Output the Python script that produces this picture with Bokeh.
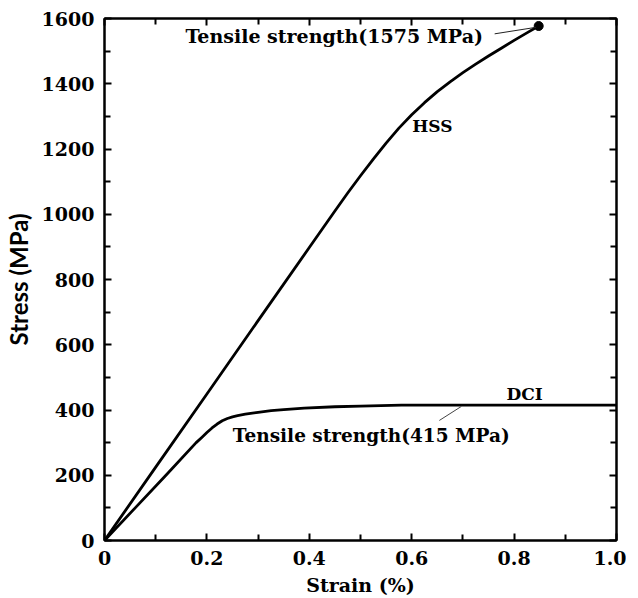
from bokeh.plotting import figure
from bokeh.models import Range1d, LinearAxis, FixedTicker, Label
from bokeh.embed import file_html
from bokeh.resources import INLINE

# ---- data ----
hss_strain = [0.0, 0.1, 0.2, 0.3, 0.4, 0.45, 0.475, 0.5, 0.525, 0.55, 0.575, 0.6, 0.625,
              0.65, 0.675, 0.7, 0.725, 0.75, 0.775, 0.8, 0.825, 0.848]
hss_stress = [0, 225, 449, 674, 898, 1010, 1065, 1118, 1169, 1218, 1264, 1305, 1342,
              1376, 1406, 1434, 1460, 1485, 1509, 1533, 1556, 1577]

dci_strain = [0.0, 0.06, 0.12, 0.179, 0.19, 0.20, 0.21, 0.22, 0.23, 0.24, 0.25, 0.26,
              0.275, 0.30, 0.3255, 0.35, 0.39, 0.45, 0.50, 0.58, 0.70, 0.85, 1.00]
dci_stress = [0, 100, 200, 300, 316, 331, 345, 357, 367, 374, 379, 383,
              387, 393, 398, 401, 406, 410, 412, 415, 415, 415, 415]

hss_uts_strain = [0.848]
hss_uts_stress = [1577]

x_ticks = [0, 0.2, 0.4, 0.6, 0.8, 1.0]
x_tick_labels = ["0", "0.2", "0.4", "0.6", "0.8", "1.0"]
y_ticks = [0, 200, 400, 600, 800, 1000, 1200, 1400, 1600]
y_tick_labels = ["0", "200", "400", "600", "800", "1000", "1200", "1400", "1600"]
x_minor = [0.1, 0.3, 0.5, 0.7, 0.9]
y_minor = [100, 300, 500, 700, 900, 1100, 1300, 1500]

hss_note = "Tensile strength(1575 MPa)"
dci_note = "Tensile strength(415 MPa)"
hss_leader_x = [0.762, 0.843]
hss_leader_y = [1553, 1573]
dci_leader_x = [0.654, 0.697]
dci_leader_y = [368, 411]

SERIF = "DejaVu Serif"
SANS = "Lato"

p = figure(frame_width=512, frame_height=522, output_backend="svg", toolbar_location=None,
           x_range=Range1d(0, 1.0), y_range=Range1d(0, 1600),
           min_border_left=100, min_border_top=18, min_border_right=10, min_border_bottom=50)
p.xgrid.visible = False
p.ygrid.visible = False
p.outline_line_color = "black"
p.outline_line_width = 2
p.background_fill_color = "white"
p.border_fill_color = "white"

def style_axis(ax, xdir, show_labels):
    ax.ticker = FixedTicker(ticks=x_ticks if xdir else y_ticks,
                            minor_ticks=x_minor if xdir else y_minor)
    ax.axis_line_width = 2
    ax.axis_line_color = "black"
    ax.major_tick_in = 7
    ax.major_tick_out = 0
    ax.minor_tick_in = 6
    ax.minor_tick_out = 0
    ax.major_tick_line_width = 2
    ax.minor_tick_line_width = 2
    if show_labels:
        labs = x_tick_labels if xdir else y_tick_labels
        ticks = x_ticks if xdir else y_ticks
        ax.major_label_overrides = {t: l for t, l in zip(ticks, labs)}
        ax.major_label_text_font = SERIF
        ax.major_label_text_font_style = "bold"
        ax.major_label_text_font_size = "19px"
        ax.major_label_text_color = "black"
        ax.major_label_standoff = 10
    else:
        ax.major_label_text_font_size = "0px"
        ax.major_label_text_alpha = 0

style_axis(p.xaxis[0], True, True)
style_axis(p.yaxis[0], False, True)
p.xaxis.axis_label = "Strain (%)"
p.xaxis.axis_label_text_font = SERIF
p.xaxis.axis_label_text_font_style = "bold"
p.xaxis.axis_label_text_font_size = "19px"
p.xaxis.axis_label_text_color = "black"
p.xaxis.axis_label_standoff = 6
p.yaxis.axis_label = "Stress (MPa)"
p.yaxis.axis_label_text_font = SANS
p.yaxis.axis_label_text_font_style = "bold"
p.yaxis.axis_label_text_font_size = "24px"
p.yaxis.axis_label_text_color = "black"
p.yaxis.axis_label_standoff = 6

top = LinearAxis()
style_axis(top, True, False)
p.add_layout(top, "above")
right = LinearAxis()
style_axis(right, False, False)
p.add_layout(right, "right")

p.line(hss_strain, hss_stress, line_color="black", line_width=2.8, line_join="round")
p.line(dci_strain, dci_stress, line_color="black", line_width=2.8, line_join="round")
p.scatter(hss_uts_strain, hss_uts_stress, size=9, color="black")
p.line(hss_leader_x, hss_leader_y, line_color="#222222", line_width=1)
p.line(dci_leader_x, dci_leader_y, line_color="#444444", line_width=1)

def note(x, y, text, size):
    p.add_layout(Label(x=x, y=y, text=text, text_font=SERIF, text_font_style="bold",
                       text_font_size=size, text_color="black", text_baseline="middle",
                       text_align="left"))

note(0.158, 1545, hss_note, "19px")
note(0.601, 1272, "HSS", "17px")
note(0.785, 450, "DCI", "17px")
note(0.2506, 322, dci_note, "18.5px")

open("out.html", "w").write(file_html(p, INLINE))
